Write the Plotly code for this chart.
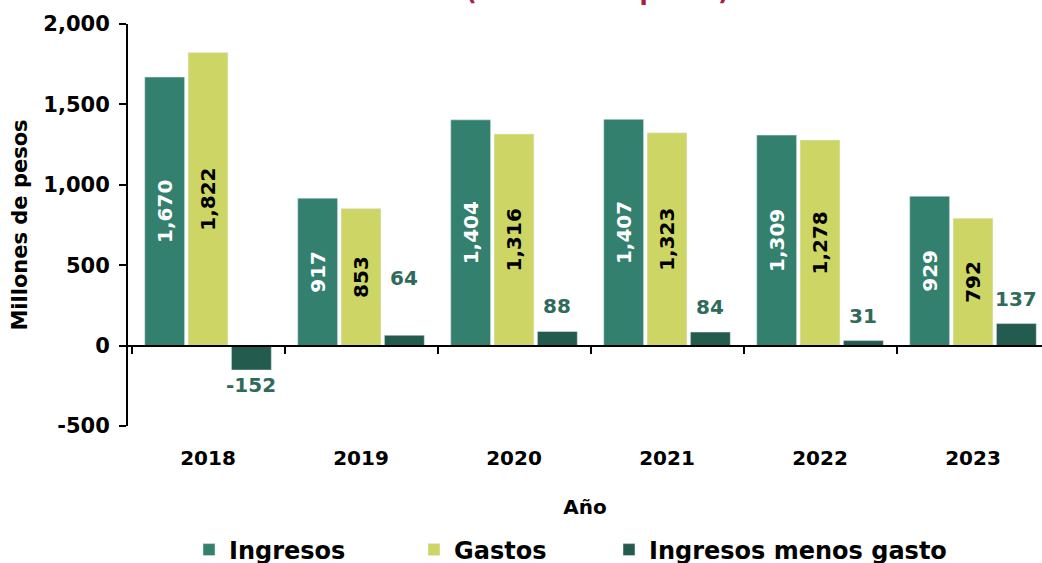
import plotly.graph_objects as go

years = ["2018", "2019", "2020", "2021", "2022", "2023"]
ingresos = [1670, 917, 1404, 1407, 1309, 929]
gastos = [1822, 853, 1316, 1323, 1278, 792]
diferencia = [-152, 64, 88, 84, 31, 137]
ytick_vals = [-500, 0, 500, 1000, 1500, 2000]

FONT = "'DejaVu Sans', sans-serif"
C_ING = "#33806E"
C_GAS = "#CDD664"
C_DIF = "#235B4E"
C_LAB = "#2F6B5C"

W, H = 1042, 563
ML, MR, MT, MB = 128, 0, 24, 137
BARGAP, BARGROUPGAP = 0.15, 0.08
xrange = [-0.523, 5.451]


def fmt(v):
    return f"{v:,}"


fig = go.Figure()
fig.add_trace(go.Bar(
    name="<b>Ingresos</b>", x=years, y=ingresos, marker_color=C_ING,
    text=[fmt(v) for v in ingresos], textposition="inside", textangle=-90,
    insidetextanchor="middle", legend="legend",
    textfont=dict(family=FONT, size=20, color="white", weight="bold"),
))
fig.add_trace(go.Bar(
    name="<b>Gastos</b>", x=years, y=gastos, marker_color=C_GAS,
    text=[fmt(v) for v in gastos], textposition="inside", textangle=-90,
    insidetextanchor="middle", legend="legend2",
    textfont=dict(family=FONT, size=20, color="black", weight="bold"),
))
fig.add_trace(go.Bar(
    name="<b>Ingresos menos gasto</b>", x=years, y=diferencia,
    marker_color=C_DIF, legend="legend3",
))
# helper trace for the zero-line axis
fig.add_trace(go.Scatter(x=years, y=[None] * len(years), xaxis="x2",
                         showlegend=False, hoverinfo="skip", mode="markers"))

# labels for the difference bars (third slot of each group)
px_per_cat = (W - ML - MR) / (xrange[1] - xrange[0])
slot_shift = px_per_cat * (1 - BARGAP) / 3
label_nudge = {"2019": 32}
for i, (yr, v) in enumerate(zip(years, diferencia)):
    fig.add_annotation(
        x=i, xref="x", xshift=slot_shift, y=v, yref="y",
        text=fmt(v), showarrow=False,
        yshift=(25 + label_nudge.get(yr, 0)) if v >= 0 else -15,
        font=dict(family=FONT, size=20, color=C_LAB, weight="bold"),
        yanchor="middle",
    )

legend_common = dict(
    orientation="h", xanchor="left", xref="container", yref="container",
    y=13 / H, yanchor="middle", itemwidth=30,
    font=dict(family=FONT, size=24, color="black"),
)

fig.update_layout(
    width=W, height=H,
    margin=dict(l=ML, r=MR, t=MT, b=MB, autoexpand=False),
    plot_bgcolor="white", paper_bgcolor="white",
    barmode="group", bargap=BARGAP, bargroupgap=BARGROUPGAP,
    font=dict(family=FONT, color="black"),
    xaxis=dict(
        type="category", range=xrange, showline=False, ticks="",
        ticklabelstandoff=18,
        tickfont=dict(family=FONT, size=20, color="black", weight="bold"),
        title=dict(text="Año", standoff=30,
                   font=dict(family=FONT, size=20, color="black", weight="bold")),
    ),
    xaxis2=dict(
        type="category", range=xrange, overlaying="x", anchor="free",
        position=0.2, side="bottom", showline=True, linecolor="black",
        linewidth=2, ticks="outside", ticklen=7, tickwidth=2,
        tickcolor="black", tickson="boundaries", showticklabels=False,
        showgrid=False, zeroline=False,
    ),
    yaxis=dict(
        range=[-500, 2000], tickvals=ytick_vals,
        ticktext=[fmt(v) for v in ytick_vals],
        showgrid=False, zeroline=False,
        showline=True, linecolor="black", linewidth=2,
        ticks="outside", ticklen=7, tickwidth=2, tickcolor="black",
        ticklabelstandoff=5,
        tickfont=dict(family=FONT, size=21, color="black", weight="bold"),
        title=dict(text="Millones de pesos", standoff=10,
                   font=dict(family=FONT, size=21, color="black", weight="bold")),
    ),
    legend=dict(legend_common, x=189 / W),
    legend2=dict(legend_common, x=414 / W),
    legend3=dict(legend_common, x=609 / W),
    showlegend=True,
)
fig.add_annotation(
    text="<b>Ingresos y gastos del programa</b><br><b>2018-2023 (Millones de pesos)</b>",
    xref="paper", yref="paper",
    x=(521 - ML) / (W - ML - MR), y=1.0, yshift=16, yanchor="bottom",
    showarrow=False,
    font=dict(family=FONT, size=24, color="#9F2241"),
)

fig.write_html("out.html", config={"displayModeBar": False},
               post_script="document.body.style.margin='0px';")
